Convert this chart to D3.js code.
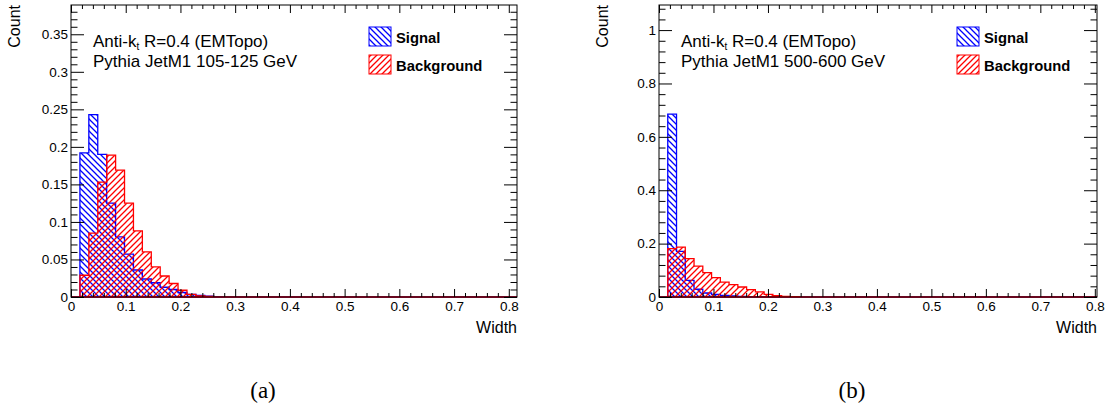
<!DOCTYPE html>
<html>
<head>
<meta charset="utf-8">
<script src="https://cdn.jsdelivr.net/npm/d3@7"></script>
<style>
  body { margin: 0; background: #fff; }
  text { font-family: "Liberation Sans", Arial, Helvetica, sans-serif; fill: #000; }
</style>
</head>
<body>
<svg id="fig" width="1110" height="407"></svg>
<script>
// 50 bins each
const signalA = [0, 0.192, 0.243, 0.190, 0.125, 0.080, 0.057, 0.036, 0.024, 0.019,
  0.013, 0.010, 0.006, 0.0035, 0.002, 0.001, 0.0005, 0.0003, 0, 0,
  0, 0, 0, 0, 0, 0, 0, 0, 0, 0, 0, 0, 0, 0, 0, 0, 0, 0, 0, 0,
  0, 0, 0, 0, 0, 0, 0, 0, 0, 0];
const backgroundA = [0, 0.029, 0.085, 0.153, 0.189, 0.169, 0.125, 0.088, 0.060, 0.040,
  0.028, 0.018, 0.009, 0.0035, 0.0015, 0.0007, 0.0003, 0.0002, 0, 0,
  0, 0, 0, 0, 0, 0, 0, 0, 0, 0, 0, 0, 0, 0, 0, 0, 0, 0, 0, 0,
  0, 0, 0, 0, 0, 0, 0, 0, 0, 0];
const signalB = [0, 0.685, 0.171, 0.0625, 0.029, 0.015, 0.010, 0.006, 0.004, 0.002,
  0.0015, 0.001, 0.0006, 0.0003, 0, 0, 0, 0, 0, 0,
  0, 0, 0, 0, 0, 0, 0, 0, 0, 0, 0, 0, 0, 0, 0, 0, 0, 0, 0, 0,
  0, 0, 0, 0, 0, 0, 0, 0, 0, 0];
const backgroundB = [0, 0.181, 0.187, 0.144, 0.116, 0.091, 0.0725, 0.056, 0.046, 0.0375,
  0.0275, 0.019, 0.010, 0.005, 0.0025, 0.0012, 0.0006, 0.0003, 0, 0,
  0, 0, 0, 0, 0, 0, 0, 0, 0, 0, 0, 0, 0, 0, 0, 0, 0, 0, 0, 0,
  0, 0, 0, 0, 0, 0, 0, 0, 0, 0];

const xTickLabels = ['0', '0.1', '0.2', '0.3', '0.4', '0.5', '0.6', '0.7', '0.8'];
const yTickLabelsA = ['0', '0.05', '0.1', '0.15', '0.2', '0.25', '0.3', '0.35'];
const yTickLabelsB = ['0', '0.2', '0.4', '0.6', '0.8', '1'];
const legendLabels = ['Signal', 'Background'];
const jetLabel = 'Pythia JetM1';
const ranges = ['105-125 GeV', '500-600 GeV'];
const captions = ['(a)', '(b)'];

const svg = d3.select('#fig');
const defs = svg.append('defs');

// ROOT style hatches: signal "\\\", background "///"
defs.append('pattern').attr('id', 'hatchSig')
  .attr('patternUnits', 'userSpaceOnUse').attr('width', 6).attr('height', 6)
  .append('path').attr('d', 'M0,0L6,6M-1,5L1,7M5,-1L7,1')
  .attr('stroke', '#0000ff').attr('stroke-width', 1.3);
defs.append('pattern').attr('id', 'hatchBkg')
  .attr('patternUnits', 'userSpaceOnUse').attr('width', 6).attr('height', 6)
  .append('path').attr('d', 'M0,6L6,0M-1,1L1,-1M5,7L7,5')
  .attr('stroke', '#ff0000').attr('stroke-width', 1.3);

const panels = [
  { left: 71, right: 517, xMax: 0.815, yMax: 0.389, yLabels: yTickLabelsA, yMinor: 0.01,
    sig: signalA, bkg: backgroundA, range: ranges[0], caption: captions[0], capX: 263 },
  { left: 659, right: 1097, xMax: 0.804, yMax: 1.094, yLabels: yTickLabelsB, yMinor: 0.04,
    sig: signalB, bkg: backgroundB, range: ranges[1], caption: captions[1], capX: 852 }
];

const frameTop = 5, frameBottom = 297;

panels.forEach(p => {
  const g = svg.append('g');
  const x = d3.scaleLinear().domain([0, p.xMax]).range([p.left, p.right]);
  const y = d3.scaleLinear().domain([0, p.yMax]).range([frameBottom, frameTop]);

  const xMajor = xTickLabels.map(Number);
  const xMinor = d3.range(0, p.xMax, 0.02).filter(v => Math.abs(v * 10 - Math.round(v * 10)) > 1e-6);
  const yMajor = p.yLabels.map(Number);
  const step = yMajor[1];
  const yMinor = d3.range(0, p.yMax, p.yMinor).filter(v => Math.abs(v / step - Math.round(v / step)) > 1e-6);
  const fmt = d => p.yLabels[yMajor.indexOf(d)];

  // histograms
  const nb = p.sig.length;
  const bw = p.xMax / nb;
  const pts = vals => vals.map((v, i) => [i * bw, v]).concat([[p.xMax, vals[nb - 1]]]);
  const area = d3.area().curve(d3.curveStepAfter)
    .x(d => x(d[0])).y0(y(0)).y1(d => y(d[1]));

  g.append('path').datum(pts(p.sig)).attr('d', area)
    .attr('fill', 'url(#hatchSig)').attr('stroke', '#0000ff').attr('stroke-width', 1.3);
  g.append('path').datum(pts(p.bkg)).attr('d', area)
    .attr('fill', 'url(#hatchBkg)').attr('stroke', '#ff0000').attr('stroke-width', 1.3);

  // frame
  g.append('rect').attr('x', p.left).attr('y', frameTop)
    .attr('width', p.right - p.left).attr('height', frameBottom - frameTop)
    .attr('fill', 'none').attr('stroke', '#000').attr('stroke-width', 1);

  const tickStyle = sel => {
    sel.select('.domain').remove();
    sel.selectAll('line').attr('stroke', '#000');
    sel.selectAll('text').style('font-size', '13.5px')
      .style('font-family', '"Liberation Sans", Arial, sans-serif').attr('fill', '#000');
  };

  // x axis bottom and top
  g.append('g').attr('transform', `translate(0,${frameBottom})`)
    .call(d3.axisBottom(x).tickValues(xMajor).tickSize(-8).tickPadding(4)
      .tickFormat((d, i) => xTickLabels[i])).call(tickStyle);
  g.append('g').attr('transform', `translate(0,${frameBottom})`)
    .call(d3.axisBottom(x).tickValues(xMinor).tickSize(-4).tickFormat('')).call(tickStyle);
  g.append('g').attr('transform', `translate(0,${frameTop})`)
    .call(d3.axisTop(x).tickValues(xMajor).tickSize(-8).tickFormat('')).call(tickStyle);
  g.append('g').attr('transform', `translate(0,${frameTop})`)
    .call(d3.axisTop(x).tickValues(xMinor).tickSize(-4).tickFormat('')).call(tickStyle);

  // y axis left and right
  g.append('g').attr('transform', `translate(${p.left},0)`)
    .call(d3.axisLeft(y).tickValues(yMajor).tickSize(-13).tickPadding(3).tickFormat(fmt))
    .call(tickStyle);
  g.append('g').attr('transform', `translate(${p.left},0)`)
    .call(d3.axisLeft(y).tickValues(yMinor).tickSize(-6.5).tickFormat('')).call(tickStyle);
  g.append('g').attr('transform', `translate(${p.right},0)`)
    .call(d3.axisRight(y).tickValues(yMajor).tickSize(-13).tickFormat('')).call(tickStyle);
  g.append('g').attr('transform', `translate(${p.right},0)`)
    .call(d3.axisRight(y).tickValues(yMinor).tickSize(-6.5).tickFormat('')).call(tickStyle);

  // axis titles
  g.append('text').attr('transform', `translate(${p.left - 51},${frameTop}) rotate(-90)`)
    .attr('text-anchor', 'end').style('font-size', '16px').text('Count');
  g.append('text').attr('x', p.right).attr('y', 333)
    .attr('text-anchor', 'end').style('font-size', '16px').text('Width');

  // labels
  const t1 = g.append('text').attr('x', p.left + 22).attr('y', 47).style('font-size', '17px');
  t1.append('tspan').text('Anti-k');
  t1.append('tspan').attr('dy', 3).style('font-size', '10px').text('t');
  t1.append('tspan').attr('dy', -3).text(' R=0.4 (EMTopo)');
  g.append('text').attr('x', p.left + 22).attr('y', 67).style('font-size', '17px')
    .text(`${jetLabel} ${p.range}`);

  // legend
  const lx = p.left + 298;
  [['url(#hatchSig)', '#0000ff', 27], ['url(#hatchBkg)', '#ff0000', 55]].forEach((s, i) => {
    g.append('rect').attr('x', lx).attr('y', s[2]).attr('width', 22).attr('height', 19)
      .attr('fill', s[0]).attr('stroke', s[1]).attr('stroke-width', 1);
    g.append('text').attr('x', lx + 27).attr('y', s[2] + 16)
      .style('font-size', '14.8px').style('font-weight', 'bold').text(legendLabels[i]);
  });

  // caption
  g.append('text').attr('x', p.capX).attr('y', 398).attr('text-anchor', 'middle')
    .style('font-family', '"Liberation Serif", "DejaVu Serif", serif').style('font-size', '23px')
    .text(p.caption);
});
</script>
</body>
</html>
